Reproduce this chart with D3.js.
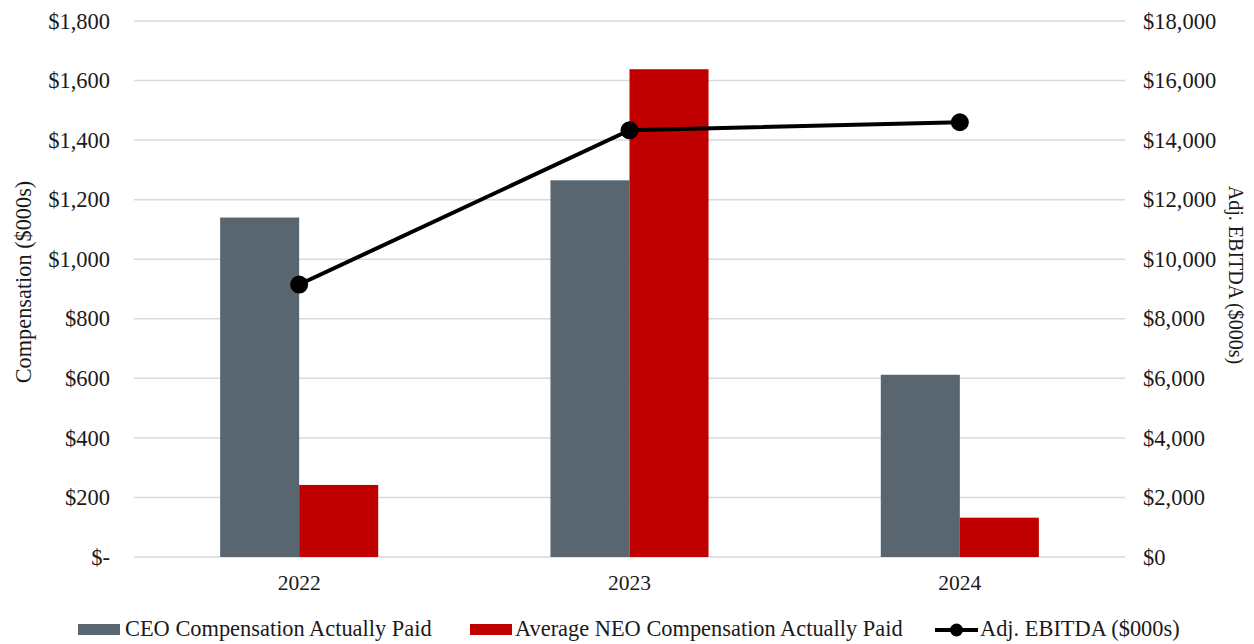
<!DOCTYPE html>
<html><head><meta charset="utf-8">
<script src="https://cdn.jsdelivr.net/npm/d3@7"></script>
<style>body{margin:0;background:#fff;}svg{display:block;}</style>
</head><body>
<svg id="c" width="1254" height="644"></svg>
<script>
const categories = ["2022","2023","2024"];
const ceoComp = [1140, 1265, 612];
const neoComp = [242, 1638, 132];
const ebitda = [9150, 14330, 14600];
const leftTicks = [0,200,400,600,800,1000,1200,1400,1600,1800];
const rightTicks = [0,2000,4000,6000,8000,10000,12000,14000,16000,18000];
const seriesNames = ["CEO Compensation Actually Paid","Average NEO Compensation Actually Paid","Adj. EBITDA ($000s)"];

const FONT = '"Liberation Serif"';
const TXT = "#1a1a1a";
const svg = d3.select("#c");
const m = {l:134, r:1125, t:21, b:557};
const x = d3.scaleBand().domain(categories).range([m.l, m.r]);
const xs = d3.scaleBand().domain(["ceo","neo"]).range([0, x.bandwidth()]).paddingOuter(1.09);
const yL = d3.scaleLinear().domain([0,1800]).range([m.b, m.t]);
const yR = d3.scaleLinear().domain([0,18000]).range([m.b, m.t]);

// gridlines
svg.append("g").selectAll("line").data(leftTicks).join("line")
  .attr("x1", m.l).attr("x2", m.r).attr("y1", d=>yL(d)).attr("y2", d=>yL(d))
  .attr("stroke", "#d9d9d9").attr("stroke-width", 1.5);

function styleAxis(g, size){
  g.attr("font-family", null);
  g.select(".domain").remove();
  g.selectAll("text").style("font-family", FONT).style("font-size", size+"px").attr("fill", TXT);
}
// left axis
const fmtL = d => d===0 ? "$-" : "$" + d3.format(",")(d);
const gL = svg.append("g").attr("transform", `translate(${m.l},0)`)
  .call(d3.axisLeft(yL).tickValues(leftTicks).tickFormat(fmtL).tickSize(0).tickPadding(24));
styleAxis(gL, 22.5);

// right axis
const fmtR = d => "$" + d3.format(",")(d);
const gR = svg.append("g").attr("transform", `translate(${m.r},0)`)
  .call(d3.axisRight(yR).tickValues(rightTicks).tickFormat(fmtR).tickSize(0).tickPadding(18));
styleAxis(gR, 22.5);

// x axis
const gX = svg.append("g").attr("transform", `translate(0,${m.b})`)
  .call(d3.axisBottom(x).tickSize(0).tickPadding(18));
styleAxis(gX, 21.5);

// bars
const grp = svg.append("g").selectAll("g").data(categories).join("g")
  .attr("transform", d=>`translate(${x(d)},0)`);
grp.append("rect").attr("x", xs("ceo")).attr("width", xs.bandwidth())
  .attr("y", (d,i)=>yL(ceoComp[i])).attr("height", (d,i)=>yL(0)-yL(ceoComp[i])).attr("fill","#59656f");
grp.append("rect").attr("x", xs("neo")).attr("width", xs.bandwidth())
  .attr("y", (d,i)=>yL(neoComp[i])).attr("height", (d,i)=>yL(0)-yL(neoComp[i])).attr("fill","#c00000");

// line
const cx = d => x(d) + x.bandwidth()/2;
svg.append("path").datum(categories)
  .attr("d", d3.line().x(d=>cx(d)).y((d,i)=>yR(ebitda[i])))
  .attr("fill","none").attr("stroke","#000").attr("stroke-width",4);
svg.append("g").selectAll("circle").data(categories).join("circle")
  .attr("cx", d=>cx(d)).attr("cy",(d,i)=>yR(ebitda[i])).attr("r",9).attr("fill","#000");

// axis titles
svg.append("text").attr("transform",`translate(31,282) rotate(-90)`)
  .attr("text-anchor","middle").style("font-family",FONT).style("font-size","22.3px").attr("fill",TXT).text("Compensation ($000s)");
svg.append("text").attr("transform",`translate(1229,275) rotate(90)`)
  .attr("text-anchor","middle").style("font-family",FONT).style("font-size","20px").attr("fill",TXT).text("Adj. EBITDA ($000s)");

// legend
const ly = 630;
const leg = svg.append("g");
const legText = (xx, t) => leg.append("text").attr("x",xx).attr("y",636)
  .style("font-family",FONT).style("font-size","22.4px").attr("fill",TXT).text(t);
leg.append("rect").attr("x",78).attr("y",624).attr("width",42).attr("height",11).attr("fill","#59656f");
legText(125, seriesNames[0]);
leg.append("rect").attr("x",470).attr("y",624).attr("width",42).attr("height",11).attr("fill","#c00000");
legText(515, seriesNames[1]);
leg.append("line").attr("x1",935).attr("x2",978).attr("y1",ly).attr("y2",ly).attr("stroke","#000").attr("stroke-width",4);
leg.append("circle").attr("cx",956.5).attr("cy",ly).attr("r",6.5).attr("fill","#000");
legText(980, seriesNames[2]);
</script>
</body></html>
